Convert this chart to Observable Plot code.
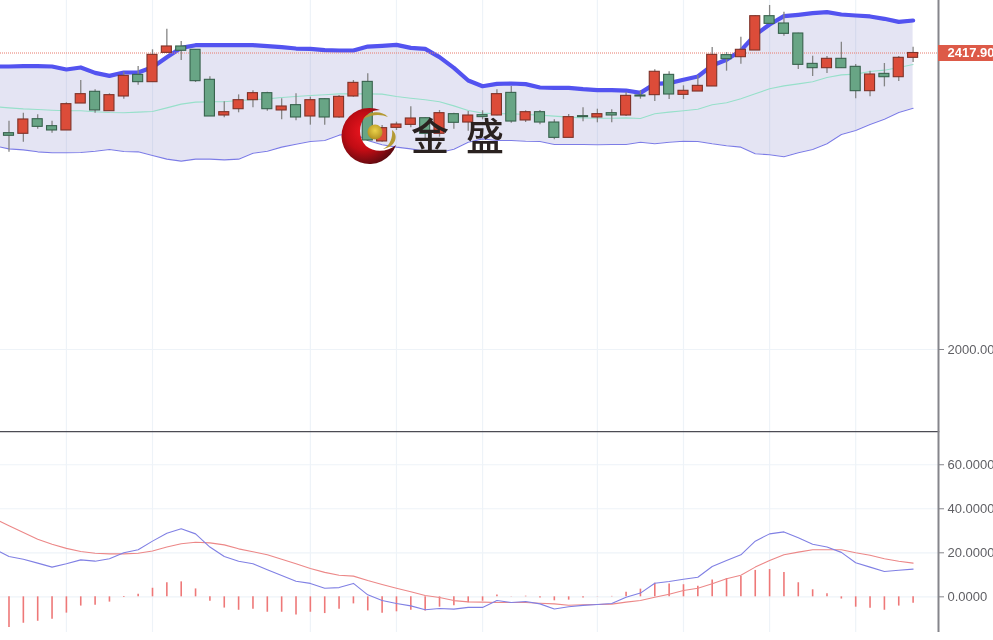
<!DOCTYPE html>
<html>
<head>
<meta charset="utf-8">
<script src="https://cdn.jsdelivr.net/npm/d3@7"></script>
<script src="https://cdn.jsdelivr.net/npm/@observablehq/plot@0.6"></script>
<style>
html,body{margin:0;padding:0;background:#fff;}
#wrap{position:relative;width:993px;height:640px;overflow:hidden;}
#wrap svg{display:block;filter:blur(0.45px);}
#logo{position:absolute;left:0;top:0;pointer-events:none;}
</style>
</head>
<body>
<div id="wrap"></div>
<script>
const openP = [2304.9,2304.0,2324.6,2314.8,2308.7,2346.7,2363.2,2335.9,2356.6,2387.1,
2376.8,2418.1,2427.1,2422.4,2380.1,2329.8,2338.7,2351.4,2361.3,2336.9,
2344.4,2328.4,2352.8,2327.0,2356.6,2377.2,2293.2,2312.4,2316.6,2326.0,
2304.0,2331.7,2319.9,2330.3,2329.8,2361.7,2322.8,2334.5,2319.9,2298.3,
2328.9,2327.0,2333.1,2329.8,2358.0,2358.5,2387.1,2358.9,2363.6,2370.7,
2414.9,2412.0,2421.4,2469.8,2459.5,2445.4,2402.6,2396.5,2409.7,2398.4,
2364.1,2388.5,2383.8,2411.1];
const closeP = [2301.2,2324.2,2313.8,2308.7,2345.8,2359.9,2336.9,2358.5,2385.7,2376.8,
2415.3,2427.1,2421.0,2378.2,2328.4,2334.5,2351.4,2361.3,2338.7,2342.5,
2327.0,2351.4,2327.0,2356.1,2375.8,2294.6,2312.0,2317.1,2325.6,2304.0,
2333.1,2319.5,2329.8,2327.5,2359.9,2321.3,2334.5,2319.9,2298.3,2327.5,
2327.5,2331.7,2329.8,2357.5,2356.6,2391.4,2359.4,2364.6,2371.6,2415.3,
2409.2,2422.4,2469.8,2459.0,2444.9,2401.2,2396.5,2409.7,2396.5,2364.1,
2387.6,2383.8,2411.1,2417.9];
const highP = [2321.8,2333.1,2330.8,2321.8,2347.7,2379.1,2366.0,2360.4,2390.9,2398.9,
2422.4,2451.5,2434.1,2422.8,2384.3,2349.1,2358.9,2364.6,2362.7,2353.3,
2360.4,2355.7,2353.3,2358.0,2379.1,2388.5,2315.7,2320.4,2342.0,2326.5,
2336.8,2333.1,2335.4,2336.4,2366.0,2370.7,2336.4,2336.8,2323.7,2331.2,
2340.6,2338.7,2337.8,2362.2,2365.0,2394.2,2391.4,2371.6,2386.2,2425.7,
2418.6,2440.2,2470.3,2484.9,2475.5,2445.9,2413.4,2413.0,2433.2,2401.7,
2392.3,2403.1,2413.0,2426.1];
const lowP = [2278.1,2292.2,2310.6,2304.9,2308.7,2346.7,2333.1,2335.5,2352.8,2372.6,
2376.8,2418.1,2407.3,2376.3,2328.4,2326.5,2333.6,2340.6,2335.9,2323.7,
2322.3,2316.2,2316.2,2326.0,2355.6,2293.2,2292.2,2308.7,2312.4,2294.6,
2299.3,2310.5,2307.7,2323.7,2329.3,2319.0,2319.9,2316.6,2295.5,2298.3,
2320.9,2319.5,2319.5,2328.4,2352.8,2349.6,2352.4,2352.4,2363.6,2370.7,
2392.3,2402.2,2421.4,2458.1,2441.6,2394.6,2384.8,2389.0,2396.5,2353.3,
2356.1,2370.2,2377.7,2404.5];

// Indicator series start one session before the first visible candle (off the left edge)
const bollUpper = [2398.9,2398.9,2399.3,2399.3,2398.9,2394.7,2397.5,2389.9,2385.7,2390.4,2390.4,
2397.9,2412.0,2425.2,2428.9,2428.9,2428.9,2428.9,2428.9,2427.5,2426.1,
2424.2,2423.8,2421.9,2421.4,2421.4,2427.0,2428.0,2429.4,2425.2,2423.8,
2412.0,2397.0,2379.1,2371.1,2374.4,2374.9,2374.0,2369.3,2368.8,2368.8,
2366.9,2365.5,2365.5,2365.0,2361.7,2374.4,2375.4,2380.1,2384.8,2400.3,
2408.3,2421.4,2443.5,2458.1,2469.8,2471.7,2474.0,2475.5,2472.2,2470.8,
2469.4,2466.1,2461.8,2463.7];
const bollMid = [2342.3,2340.6,2339.2,2338.3,2337.3,2336.4,2336.4,2335.0,2334.0,2333.6,2334.5,
2335.5,2340.6,2345.8,2348.6,2349.1,2349.1,2351.0,2351.9,2353.3,2355.2,
2356.6,2358.0,2359.0,2360.3,2360.3,2360.3,2359.9,2356.6,2354.2,2351.9,
2349.1,2343.4,2336.8,2333.1,2332.2,2332.2,2331.2,2330.3,2328.9,2327.5,
2326.5,2326.0,2326.0,2326.5,2325.6,2332.2,2334.5,2336.4,2338.7,2344.9,
2347.7,2353.3,2360.4,2367.4,2371.6,2374.4,2377.3,2383.4,2387.1,2388.1,
2391.8,2393.7,2397.5,2401.7];
const bollLower = [2286.9,2282.8,2281.4,2278.6,2277.2,2277.2,2277.7,2279.5,2281.9,2279.1,2278.6,
2273.4,2268.3,2265.5,2268.3,2268.3,2267.3,2268.3,2276.7,2279.5,2285.2,
2289.4,2293.2,2294.6,2302.1,2304.9,2294.6,2288.5,2285.2,2282.8,2279.5,
2277.6,2282.3,2292.2,2296.9,2294.6,2294.6,2293.6,2293.2,2288.9,2288.9,
2288.9,2288.5,2288.9,2288.9,2292.2,2289.9,2292.2,2293.6,2293.2,2289.9,
2287.1,2285.2,2275.8,2274.4,2271.6,2277.2,2281.9,2289.9,2303.0,2308.7,
2317.1,2324.6,2334.0,2340.1];
const macdDif = [21.7,18.3,17.1,15.3,13.5,15.0,16.8,16.2,17.3,20.0,21.4,
25.3,28.9,30.9,28.6,22.6,18.3,16.2,15.0,12.3,9.7,
7.1,6.1,3.9,4.2,6.1,0.9,-1.7,-3.0,-4.1,-5.9,
-5.3,-5.6,-4.8,-4.8,-1.7,-2.6,-2.1,-3.2,-5.5,-4.5,
-3.9,-3.5,-3.0,-0.2,1.7,6.2,7.0,8.0,8.9,13.8,
16.5,19.1,25.3,28.6,29.5,26.8,23.9,22.6,20.2,15.5,
13.5,11.5,12.1,12.6];
const macdDea = [35.4,32.3,29.2,26.2,23.9,22.0,20.6,19.8,19.5,19.5,19.8,
20.8,22.6,24.1,24.8,24.5,23.6,21.8,20.5,19.1,17.1,
15.0,12.9,11.1,9.8,9.4,7.4,5.6,3.9,2.3,0.6,
-0.3,-1.7,-2.3,-2.4,-2.6,-2.6,-2.6,-2.9,-3.2,-3.8,
-3.6,-3.5,-3.3,-2.4,-1.7,-0.2,1.2,2.9,3.9,5.9,
8.2,9.8,13.5,16.5,19.1,20.3,21.4,21.4,21.4,20.0,
18.9,17.3,16.2,15.3];
const macdHist = [-13.9,-12.0,-11.1,-10.2,-7.4,-4.2,-3.8,-2.4,-0.3,1.2,
3.9,6.4,6.8,3.6,-2.0,-5.1,-6.1,-5.6,-7.0,-7.0,
-8.3,-7.0,-7.6,-5.6,-3.2,-6.4,-7.4,-6.8,-6.1,-6.4,
-4.7,-4.1,-2.7,-2.0,0.8,-0.1,0.3,-0.5,-1.8,-1.5,
-0.5,-0.1,0.2,2.1,3.5,6.2,5.8,5.5,4.8,7.7,
8.3,9.2,12.0,12.4,11.1,6.4,3.2,1.4,-1.0,-4.7,
-5.2,-6.1,-4.2,-2.9];

const gridSessions = [4,10,21,27,33,41,47,53,59];
const priceTicks = [2000];
const macdTicks = [0,20,40,60];
const lastPrice = 2417.9;
const watermark = "金盛";

const candles = openP.map((o,i)=>({i,o,c:closeP[i],h:highP[i],l:lowP[i]}));
const lineRows = bollUpper.map((u,k)=>({i:k-1,u,m:bollMid[k],l:bollLower[k],dif:macdDif[k],dea:macdDea[k]}));
const histRows = macdHist.map((v,i)=>({i,v}));

const xDomain = [-0.592,64.77];
const xFull = 68.6;
const xOpts = {domain:xDomain, range:[0,938]};
const FONT = "'Liberation Sans', Arial, sans-serif";
const GRID = "#eef3f8";
const AXIS = "#85858b";
const LABEL = "#5f5f64";

const pricePlot = Plot.plot({
  width:993, height:431, marginLeft:0, marginRight:55, marginTop:0, marginBottom:0,
  style:{fontFamily:FONT, fontSize:"13px", background:"transparent"},
  x:{...xOpts, axis:null},
  y:{domain:[1884.4,2491.9], range:[431,0], axis:null},
  marks:[
    Plot.ruleX(gridSessions,{stroke:GRID, strokeWidth:1.2}),
    Plot.ruleY(priceTicks,{stroke:GRID, strokeWidth:1.2}),
    Plot.areaY(lineRows,{x:"i", y1:"l", y2:"u", fill:"#5a5ab4", fillOpacity:0.16}),
    Plot.line(lineRows,{x:"i", y:"m", stroke:"#97e0ca", strokeWidth:1.1}),
    Plot.line(lineRows,{x:"i", y:"l", stroke:"#7c7ce6", strokeWidth:1.1}),
    Plot.line(lineRows,{x:"i", y:"u", stroke:"#5353f0", strokeWidth:4.2}),
    Plot.ruleY([lastPrice],{x1:xDomain[0], x2:xDomain[1], stroke:"#e8796b", strokeWidth:1, strokeDasharray:"1 1"}),
    Plot.ruleX(candles,{x:"i", y1:"l", y2:"h", stroke:"#858585", strokeWidth:1.3}),
    Plot.rect(candles,{x1:d=>d.i-0.35, x2:d=>d.i+0.35, y1:"o", y2:"c",
      fill:d=>d.c>=d.o?"#dc4c39":"#68a585",
      stroke:d=>d.c>=d.o?"#7e3329":"#38624d", strokeWidth:1.1}),
    Plot.frame({anchor:"right", stroke:AXIS, strokeWidth:2}),
    Plot.axisY(priceTicks,{anchor:"right", tickSize:5, tickPadding:4, stroke:AXIS, fill:LABEL, tickFormat:d3.format(".2f"), label:null}),
    Plot.ruleY([lastPrice],{x1:xDomain[1], x2:xFull, stroke:"#dd5a48", strokeWidth:16}),
    Plot.text([lastPrice],{x:xDomain[1], y:d=>d, text:d=>d3.format(".2f")(d), dx:9, textAnchor:"start", fill:"#fff", fontWeight:"bold", fontSize:13})
  ]
});

const macdPlot = Plot.plot({
  width:993, height:201, marginLeft:0, marginRight:55, marginTop:0, marginBottom:0,
  style:{fontFamily:FONT, fontSize:"13px", background:"transparent"},
  x:{...xOpts, axis:null},
  y:{domain:[-16.2,75.1], range:[201,0], axis:null},
  marks:[
    Plot.ruleX(gridSessions,{stroke:GRID, strokeWidth:1.2}),
    Plot.ruleY(macdTicks,{stroke:GRID, strokeWidth:1.2}),
    Plot.ruleX(histRows,{x:"i", y1:0, y2:"v", stroke:"#ee7878", strokeWidth:1.6}),
    Plot.line(lineRows,{x:"i", y:"dea", stroke:"#ec8888", strokeWidth:1.1}),
    Plot.line(lineRows,{x:"i", y:"dif", stroke:"#8080e4", strokeWidth:1.1}),
    Plot.frame({anchor:"top", stroke:"#4c4c54", strokeWidth:1.6}),
    Plot.frame({anchor:"right", stroke:AXIS, strokeWidth:2}),
    Plot.axisY(macdTicks,{anchor:"right", tickSize:5, tickPadding:4, stroke:AXIS, fill:LABEL, tickFormat:d3.format(".4f"), label:null})
  ]
});

const wrap = document.getElementById("wrap");
wrap.append(pricePlot, macdPlot);

// Watermark logo overlay
const NS = "http://www.w3.org/2000/svg";
const logo = document.createElementNS(NS,"svg");
logo.setAttribute("id","logo");
logo.setAttribute("width","993");
logo.setAttribute("height","640");
logo.innerHTML = `
<defs>
  <radialGradient id="red" cx="0.42" cy="0.42" r="0.62">
    <stop offset="0" stop-color="#ee1620"/>
    <stop offset="0.55" stop-color="#c00c14"/>
    <stop offset="1" stop-color="#5e0a10"/>
  </radialGradient>
  <radialGradient id="gold" cx="0.5" cy="0.4" r="0.6">
    <stop offset="0" stop-color="#ecd24a"/>
    <stop offset="1" stop-color="#b09020"/>
  </radialGradient>
</defs>
<path d="M380 110 A28 28 0 1 0 396 145 C388 152 374 153 366 146 C358 138 358 124 366 116 C369 113 373 110 380 110 Z" fill="url(#red)"/>
<circle cx="375" cy="132" r="7.5" fill="url(#gold)"/>
<path d="M363 119 C369 111 381 110 388 117 C381 114 372 114 363 119 Z" fill="#b49a34"/>
<path d="M383 149 C390 146 393 137 392 130 C399 135 396 147 383 149 Z" fill="#b49a34"/>
<text x="411" y="150" font-family="'Noto Sans CJK SC'" font-size="38" font-weight="500" fill="#2a2220" letter-spacing="17"></text>`;
logo.querySelector("text").textContent = watermark;
wrap.append(logo);
</script>
</body>
</html>
